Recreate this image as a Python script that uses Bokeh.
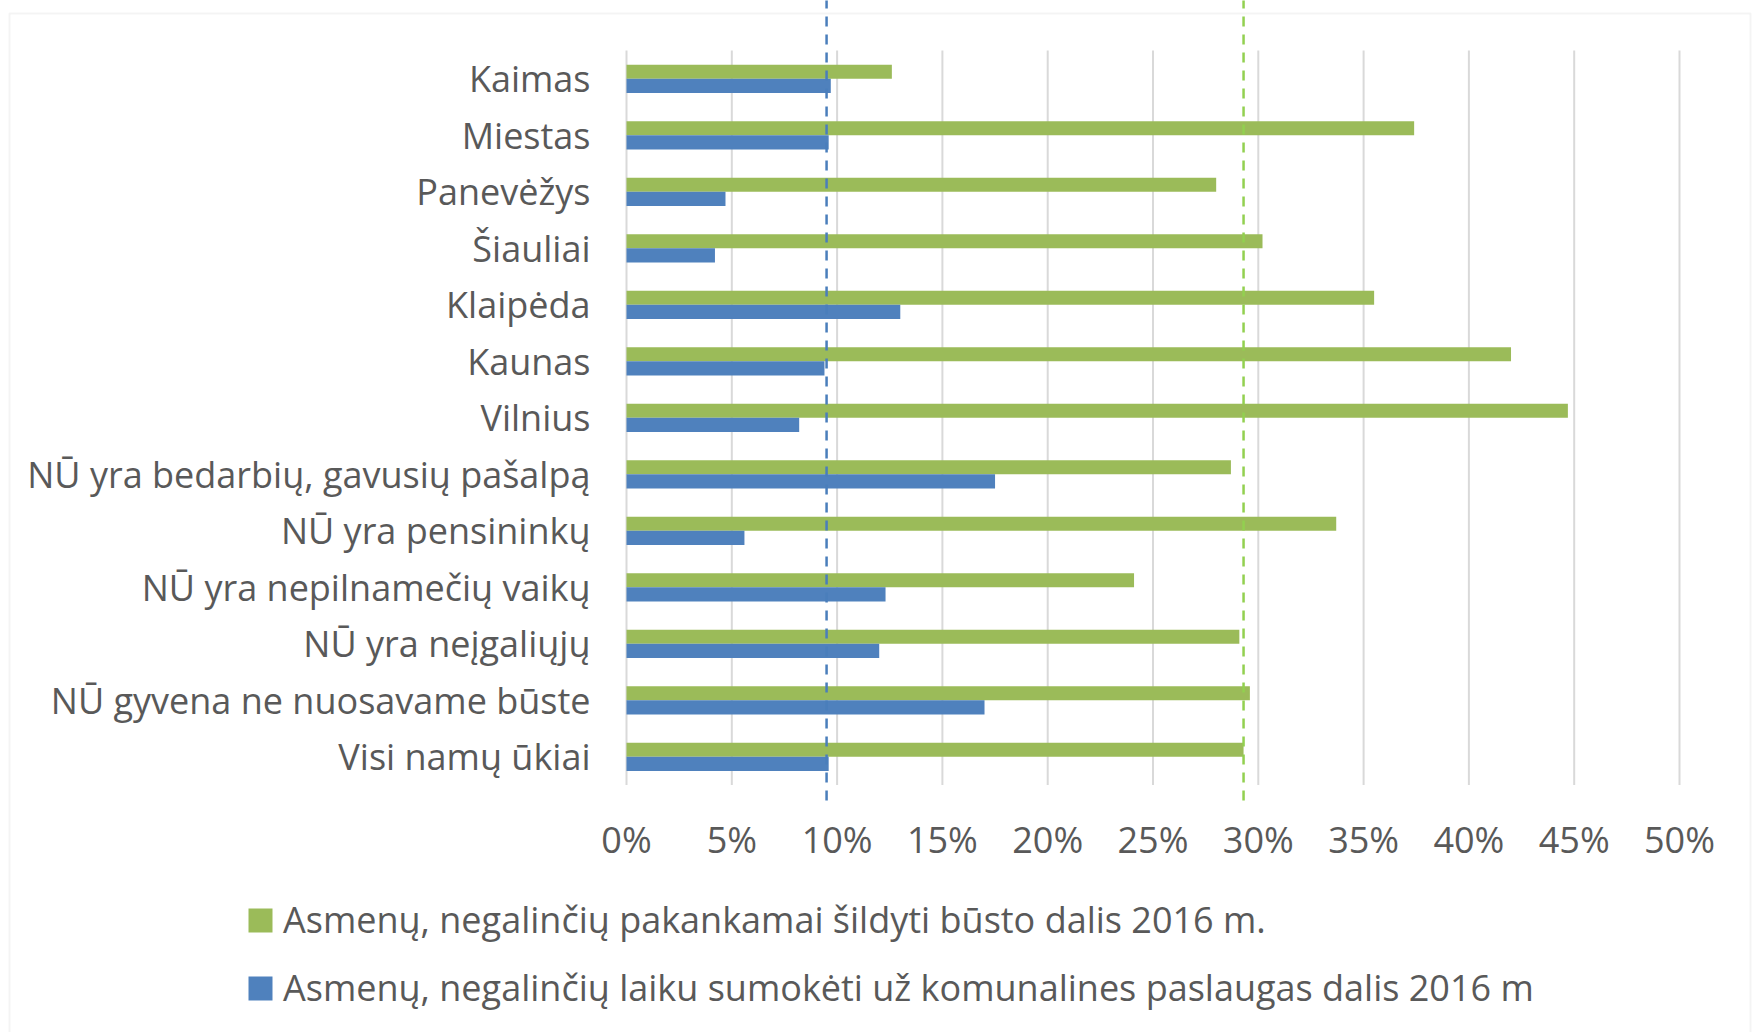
from bokeh.plotting import figure
from bokeh.models import (Range1d, FixedTicker, Legend, LegendItem,
                          BoxAnnotation, PrintfTickFormatter)
from bokeh.embed import file_html
from bokeh.resources import INLINE

# ---- data (bottom to top) ----
categories = [
    "Visi namų ūkiai",
    "NŪ gyvena ne nuosavame būste",
    "NŪ yra neįgaliųjų",
    "NŪ yra nepilnamečių vaikų",
    "NŪ yra pensininkų",
    "NŪ yra bedarbių, gavusių pašalpą",
    "Vilnius",
    "Kaunas",
    "Klaipėda",
    "Šiauliai",
    "Panevėžys",
    "Miestas",
    "Kaimas",
]
heating = [29.3, 29.6, 29.1, 24.1, 33.7, 28.7, 44.7, 42.0, 35.5, 30.2, 28.0, 37.4, 12.6]
utilities = [9.6, 17.0, 12.0, 12.3, 5.6, 17.5, 8.2, 9.4, 13.0, 4.2, 4.7, 9.6, 9.7]
ref_utilities = 9.5
ref_heating = 29.3
x_ticks = [0, 5, 10, 15, 20, 25, 30, 35, 40, 45, 50]
series_labels = [
    "Asmenų, negalinčių pakankamai šildyti būsto dalis 2016 m.",
    "Asmenų, negalinčių laiku sumokėti už komunalines paslaugas dalis 2016 m",
]

GREEN = "#9bbb59"
BLUE = "#4f81bd"
TEXT = "#595959"
GRID = "#d9d9d9"
FONT = "Open Sans"
FS = "36px"

W, H = 1753, 1032
n = len(categories)
AX_Y = -0.773          # where the value axis sits (below the category band)

p = figure(width=W, height=H, output_backend="svg", toolbar_location=None,
           x_range=Range1d(-29.725, 53.514), y_range=Range1d(-4.880, 13.386),
           min_border=0)
p.outline_line_color = None
p.xgrid.visible = False
p.ygrid.visible = False
p.background_fill_color = "white"
p.border_fill_color = "white"

# gridlines limited to the category band
p.segment(x0=x_ticks, x1=x_ticks, y0=[-0.5] * len(x_ticks), y1=[n - 0.5] * len(x_ticks),
          line_color=GRID, line_width=2)

ys = list(range(n))
g = p.hbar(y=[y + 0.125 for y in ys], left=0, right=heating, height=0.25,
           fill_color=GREEN, line_color=None)
b = p.hbar(y=[y - 0.125 for y in ys], left=0, right=utilities, height=0.25,
           fill_color=BLUE, line_color=None)

# dashed reference lines
p.segment(x0=[ref_utilities], x1=[ref_utilities], y0=[AX_Y], y1=[14],
          line_color="#4a7ebb", line_dash="10 8", line_width=2.5)
p.segment(x0=[ref_heating], x1=[ref_heating], y0=[AX_Y], y1=[14],
          line_color="#92d050", line_dash="10 8", line_width=2.5)

# axes drawn inside the frame at fixed locations
ya = p.yaxis[0]
ya.fixed_location = 0
ya.ticker = FixedTicker(ticks=ys)
ya.major_label_overrides = {i: c for i, c in enumerate(categories)}
ya.axis_line_color = None
ya.major_tick_line_color = None
ya.minor_tick_line_color = None
ya.major_tick_out = 0
ya.major_tick_in = 0
ya.major_label_standoff = 36
ya.major_label_text_font = FONT
ya.major_label_text_font_size = FS
ya.major_label_text_color = TEXT

xa = p.xaxis[0]
xa.fixed_location = AX_Y
xa.ticker = FixedTicker(ticks=x_ticks)
xa.formatter = PrintfTickFormatter(format="%d%%")
xa.axis_line_color = None
xa.major_tick_line_color = None
xa.minor_tick_line_color = None
xa.major_tick_out = 0
xa.major_tick_in = 0
xa.major_label_standoff = 15
xa.major_label_text_font = FONT
xa.major_label_text_font_size = FS
xa.major_label_text_color = TEXT

# outer chart border (screen units relative to frame bottom-left)
p.add_layout(BoxAnnotation(left=9, right=1750, top=H - 13, bottom=-30,
                           left_units="screen", right_units="screen",
                           top_units="screen", bottom_units="screen",
                           fill_alpha=0, line_color=GRID, line_width=2))

legend = Legend(items=[LegendItem(label=series_labels[0], renderers=[g]),
                       LegendItem(label=series_labels[1], renderers=[b])],
                location=(245, 20), orientation="vertical",
                glyph_width=30, glyph_height=30, label_standoff=8, spacing=19,
                padding=0, margin=0, border_line_color=None, background_fill_alpha=0,
                label_text_font=FONT, label_text_font_size=FS, label_text_color=TEXT)
p.add_layout(legend)

open("out.html", "w").write(file_html(p, INLINE))
